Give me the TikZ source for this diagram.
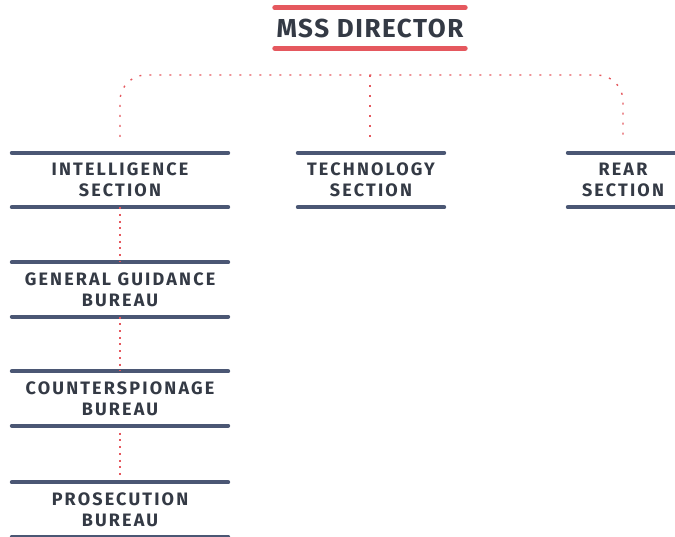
\documentclass[tikz,border=0pt]{standalone}
\usepackage{fontspec}
\setmainfont{Fira Sans}
\newfontfamily\titlefont{Fira Sans}[LetterSpace=6]
\newfontfamily\sectfont{Fira Sans}[LetterSpace=12]
\usetikzlibrary{positioning}
\definecolor{barblue}{HTML}{4B5774}
\definecolor{inkgrey}{HTML}{343A45}
\definecolor{linkred}{HTML}{E5585E}
\tikzset{
  sect/.style={minimum height=54pt,inner sep=0pt,align=center,text=inkgrey,
    font=\sectfont\fontsize{18}{21}\selectfont\bfseries},
  bar/.style={line width=4pt,line cap=round,draw=barblue},
  conn/.style={linkred,line width=1.4pt,dash pattern=on 2pt off 8pt},
  link/.style={conn,dash pattern=on 2pt off 4.7pt}
}
\begin{document}
\begin{tikzpicture}[x=1pt,y=-1pt]
  \useasboundingbox (0,0) rectangle (675,537);
  \node[inner sep=0pt,minimum width=190pt,minimum height=40pt,text=inkgrey,
    font=\titlefont\fontsize{26}{30}\selectfont\bfseries] (dir) at (370,28) {MSS DIRECTOR};
  \draw[line width=5pt,line cap=round,draw=linkred] (dir.north west)--(dir.north east) (dir.south west)--(dir.south east);
  \node[sect,minimum width=216pt] (int) at (120,180) {INTELLIGENCE\\SECTION};
  \node[sect,minimum width=146pt] (tech) at (371,180) {TECHNOLOGY\\SECTION};
  \node[sect,minimum width=110pt] (rear) at (623,180) {REAR\\SECTION};
  \node[sect,minimum width=216pt] (gen) at (120,289.5) {GENERAL GUIDANCE\\BUREAU};
  \node[sect,minimum width=216pt] (cou) at (120,398.5) {COUNTERSPIONAGE\\BUREAU};
  \node[sect,minimum width=216pt] (pro) at (120,509.5) {PROSECUTION\\BUREAU};
  \foreach \n in {int,tech,rear,gen,cou,pro}
    \draw[bar] (\n.north west)--(\n.north east) (\n.south west)--(\n.south east);
  \coordinate (hub) at (370,75);
  \draw[conn,rounded corners=26pt,shorten <=16pt,shorten >=16pt] (int.north) |- (hub) -| (rear.north);
  \draw[conn,shorten >=16pt] (hub)--(hub|-tech.north);
  \draw[link,shorten <=7pt,shorten >=7pt] (int.south)--(gen.north) (gen.south)--(cou.north) (cou.south)--(pro.north);
\end{tikzpicture}
\end{document}
